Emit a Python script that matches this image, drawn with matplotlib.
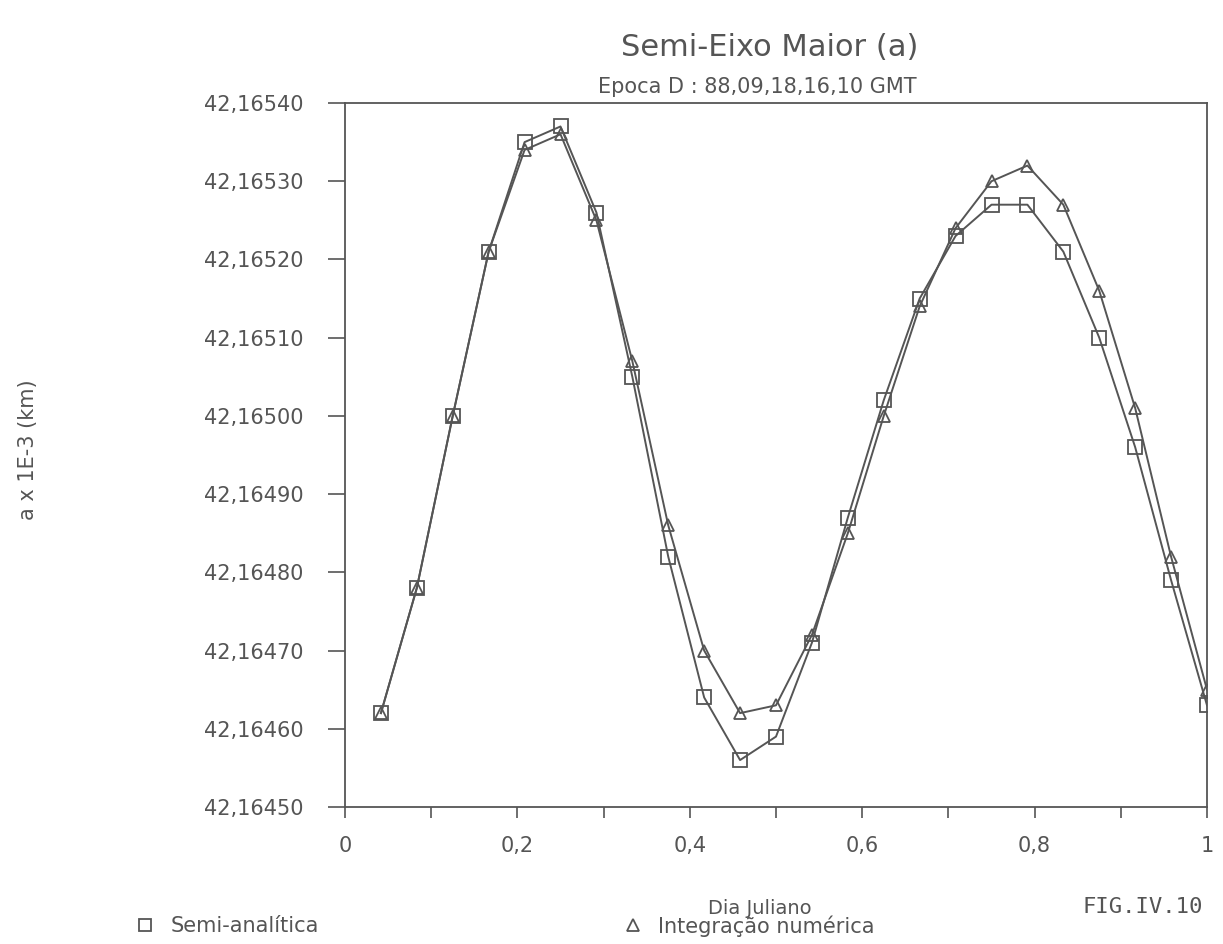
import numpy as np
import matplotlib.pyplot as plt
from matplotlib.ticker import FuncFormatter, MultipleLocator
from matplotlib.lines import Line2D

# dia juliano: pontos a cada hora (k/24)
dia = [k / 24 for k in range(1, 25)]

semi_analitica = [42.16462, 42.16478, 42.16500, 42.16521, 42.16535, 42.16537,
                  42.16526, 42.16505, 42.16482, 42.16464, 42.16456, 42.16459,
                  42.16471, 42.16487, 42.16502, 42.16515, 42.16523, 42.16527,
                  42.16527, 42.16521, 42.16510, 42.16496, 42.16479, 42.16463]

integracao = [42.16462, 42.16478, 42.16500, 42.16521, 42.16534, 42.16536,
              42.16525, 42.16507, 42.16486, 42.16470, 42.16462, 42.16463,
              42.16472, 42.16485, 42.16500, 42.16514, 42.16524, 42.16530,
              42.16532, 42.16527, 42.16516, 42.16501, 42.16482, 42.16465]

x_ticks = [0, 0.2, 0.4, 0.6, 0.8, 1]
x_labels = ['0', '0,2', '0,4', '0,6', '0,8', '1']

cor = '#555555'
plt.rcParams['font.family'] = ['DejaVu Sans']

fig = plt.figure(figsize=(12.23, 9.44), dpi=100)
ax = fig.add_axes([345 / 1223, 1 - 807 / 944, 862 / 1223, 704 / 944])

ax.plot(dia, semi_analitica, color=cor, lw=1.4, marker='s', ms=10,
        mfc='none', mec=cor, mew=1.3)
ax.plot(dia, integracao, color=cor, lw=1.4, marker='^', ms=9,
        mfc='none', mec=cor, mew=1.3)

ax.set_xlim(0, 1)
ax.set_ylim(42.16450, 42.16540)
ax.set_xticks(x_ticks)
ax.set_xticklabels(x_labels)
ax.xaxis.set_minor_locator(MultipleLocator(0.1))
ax.set_yticks(np.arange(42.16450, 42.165401, 0.0001))
ax.yaxis.set_major_formatter(FuncFormatter(lambda v, p: f'{v:.5f}'.replace('.', ',')))

ax.tick_params(which='both', direction='out', width=1.2, color=cor)
ax.tick_params(axis='x', which='both', length=8)
ax.tick_params(axis='x', which='major', pad=13, labelsize=15, labelcolor=cor)
ax.tick_params(axis='y', length=12, pad=18, labelsize=15, labelcolor=cor)
for s in ax.spines.values():
    s.set_color(cor)
    s.set_linewidth(1.3)

fig.text(770 / 1223, 1 - 48 / 944, 'Semi-Eixo Maior (a)', ha='center', va='center',
         fontsize=22, color=cor)
fig.text(757 / 1223, 1 - 87 / 944, 'Epoca D : 88,09,18,16,10 GMT', ha='center',
         va='center', fontsize=15, color=cor)
fig.text(28 / 1223, 1 - 450 / 944, 'a x 1E-3 (km)', rotation=90, ha='center',
         va='center', fontsize=15, color=cor)
fig.text(760 / 1223, 1 - 908 / 944, 'Dia Juliano', ha='center', va='center',
         fontsize=14, color=cor)
fig.text(1203 / 1223, 1 - 907 / 944, 'FIG.IV.10', ha='right', va='center',
         fontsize=16, color=cor, family='DejaVu Sans Mono')

# legenda em duas entradas separadas
entradas = [('s', 'Semi-analítica', 135), ('^', 'Integração numérica', 623)]
for mk, rotulo, xpos in entradas:
    h = Line2D([], [], ls='none', marker=mk, ms=9, mfc='none', mec=cor, mew=1.3)
    leg = fig.legend([h], [rotulo], loc='center left',
                     bbox_to_anchor=(xpos / 1223, 1 - 926 / 944),
                     frameon=False, fontsize=15, handlelength=1, handletextpad=0.7,
                     borderpad=0, borderaxespad=0)
    for t in leg.get_texts():
        t.set_color(cor)

fig.savefig('out.png', dpi=100)
